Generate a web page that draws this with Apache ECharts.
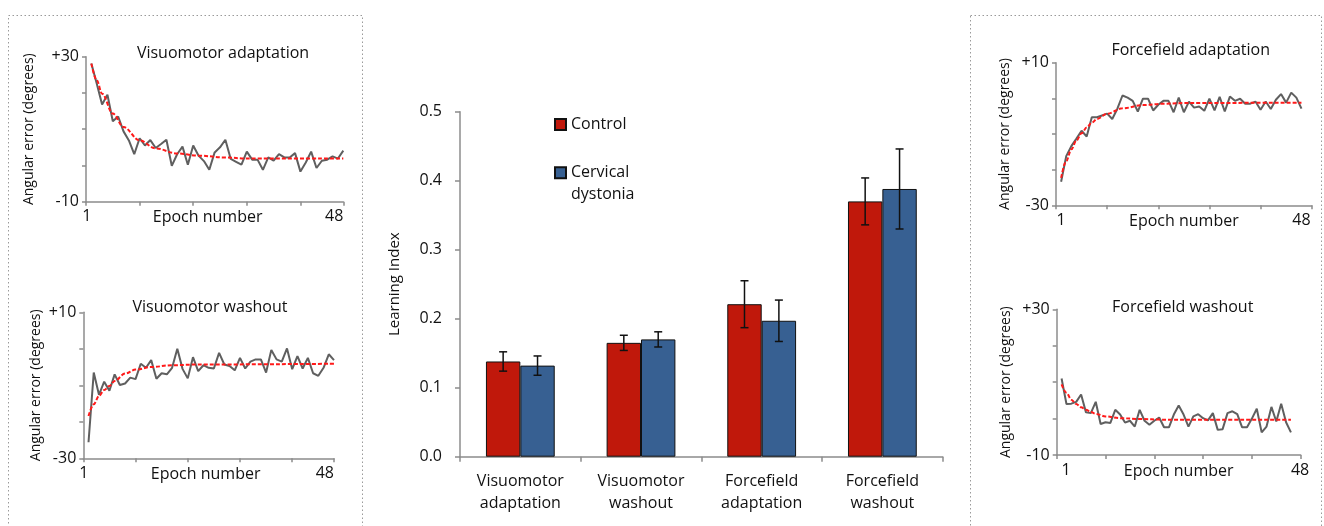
<!DOCTYPE html>
<html>
<head>
<meta charset="utf-8">
<script src="https://cdn.jsdelivr.net/npm/echarts@6/dist/echarts.min.js"></script>
<style>
html,body{margin:0;padding:0;background:#fff;}
#c{width:1324px;height:526px;}
</style>
</head>
<body>
<div id="c"></div>
<script>
// ---------- DATA ----------
const categories = ['Visuomotor\nadaptation', 'Visuomotor\nwashout', 'Forcefield\nadaptation', 'Forcefield\nwashout'];
const controlMean = [0.138, 0.165, 0.221, 0.370];
const controlSE = [0.014, 0.011, 0.034, 0.034];
const dystoniaMean = [0.132, 0.170, 0.197, 0.388];
const dystoniaSE = [0.014, 0.011, 0.030, 0.058];
const yTicksBar = [0, 0.1, 0.2, 0.3, 0.4, 0.5];

const epochLabels = [1, 48];

const vmAdaptTrial = [28.1,22.6,16.8,19.5,12.2,13.5,9.4,6.9,3.1,7.5,5.5,7.0,4.8,5.9,7.1,-0.1,3.1,5.2,0.2,5.5,2.7,1.2,-1.2,3.6,5.0,7.1,1.8,1.0,0.2,3.8,1.6,1.6,-1.2,2.2,1.3,3.1,2.2,2.2,3.4,-1.7,0.8,3.8,-0.7,1.3,1.6,2.5,1.9,4.1];
const vmAdaptFit = [[1,28.1],[2,23.5],[3,19.8],[5,14.3],[7,10.6],[10,6.9],[13,4.7],[17,3.3],[21,2.7],[26,2.2],[30,1.9],[48,1.9]];

const vmWashTrial = [-25.6,-6.5,-12.6,-9.0,-11.5,-7.0,-9.9,-9.5,-7.9,-8.3,-4.1,-5.2,-3.1,-8.2,-6.7,-7.0,-5.2,0.0,-5.5,-8.1,-2.3,-6.1,-4.5,-5.2,-5.4,-1.1,-4.3,-4.7,-5.9,-2.5,-5.4,-3.5,-2.9,-2.9,-6.5,-0.3,-2.9,-3.5,0.1,-5.6,-2.0,-5.4,-2.5,-6.7,-7.4,-5.2,-1.5,-3.1];
const vmWashFit = [[1,-18.4],[2,-15.2],[3,-12.9],[4,-11.3],[5,-10.2],[6,-8.8],[8,-6.8],[10,-5.7],[13,-5.0],[17,-4.5],[22,-4.3],[48,-4.1]];

const ffAdaptTrial = [-23.4,-16.2,-13.4,-11.3,-9.1,-10.7,-5.3,-5.3,-4.8,-4.3,-5.8,-2.9,0.8,0.2,-0.7,-3.7,-0.1,-0.1,-3.4,-1.8,-0.7,-0.7,-3.9,0.2,-3.9,-0.9,-2.6,-2.3,-3.5,-0.1,-3.4,0.4,-3.7,0.5,-0.7,-0.1,-1.5,-1.5,-0.9,-3.2,-0.9,-3.0,-0.4,1.2,-1.2,1.6,0.2,-2.9];
const ffAdaptFit = [[1,-22.3],[2,-17.6],[3,-14.3],[4,-11.8],[5,-9.8],[6,-8.2],[7,-6.8],[8,-5.8],[10,-4.3],[13,-2.8],[17,-1.9],[21,-1.5],[26,-1.3],[48,-1.2]];

const ffWashTrial = [11.0,4.0,4.1,4.6,6.6,1.7,1.5,4.6,-1.5,-1.0,-1.2,2.4,1.1,-1.1,-0.6,-2.2,2.4,-0.6,-1.7,-0.6,0.3,-2.4,-2.4,1.1,3.6,1.1,-2.2,0.6,1.2,0.1,-0.5,1.5,-3.1,-2.9,1.5,2.0,1.2,-2.4,-2.4,0.0,2.7,-3.8,-2.2,3.2,-0.8,4.1,-1.0,-3.8];
const ffWashFit = [[1,9.4],[2,7.1],[3,5.2],[4,4.0],[5,3.1],[6,2.4],[7,1.8],[8,1.3],[10,0.6],[13,0.1],[17,-0.1],[22,-0.3],[48,-0.3]];

// ---------- STYLE ----------
const FONT = 'Open Sans';
const TXT = '#111';
const AXC = '#8c8c8c';
const RED = '#C0180B';
const BLUE = '#376092';

const chart = echarts.init(document.getElementById('c'), null, {renderer: 'canvas'});

function smallPanel(gi, xMax, yMin, yMax, nameGapY, labelAlign, namePad) {
  const x = {
    type: 'value', gridIndex: gi, min: 0, max: xMax, interval: 10,
    axisLine: {show: true, onZero: false, lineStyle: {color: AXC, width: 1.5}},
    axisTick: {show: true, length: 4, inside: false, lineStyle: {color: AXC, width: 1.5}},
    splitLine: {show: false},
    axisLabel: {
      customValues: epochLabels, margin: 7, fontSize: 16, fontFamily: FONT, color: TXT,
      align: labelAlign
    },
    name: 'Epoch number', nameLocation: 'middle', nameGap: 8, nameMoveOverlap: false,
    nameTextStyle: {fontSize: 16, fontFamily: FONT, color: TXT, verticalAlign: 'top', padding: namePad}
  };
  const y = {
    type: 'value', gridIndex: gi, min: yMin, max: yMax, interval: 10,
    axisLine: {show: true, onZero: false, lineStyle: {color: AXC, width: 1.5}},
    axisTick: {show: true, length: 4, lineStyle: {color: AXC, width: 1.5}},
    splitLine: {show: false},
    axisLabel: {
      customValues: [yMin, yMax], margin: 7, fontSize: 16, fontFamily: FONT, color: TXT,
      formatter: v => v > 0 ? '+' + v : String(v)
    },
    name: 'Angular error (degrees)', nameLocation: 'middle', nameGap: nameGapY, nameMoveOverlap: false,
    nameTextStyle: {fontSize: 14, fontFamily: FONT, color: TXT}
  };
  return {x, y};
}

const p1 = smallPanel(1, 48, -10, 30, 50, 'right', [0, 14, 0, 0]);
const p2 = smallPanel(2, 48, -30, 10, 40, 'right', [0, 6, 0, 0]);
const p3 = smallPanel(3, 50, -30, 10, 44, 'center', [0, 0, 0, 0]);
const p4 = smallPanel(4, 50, -10, 30, 44, 'left', [0, 0, 0, 0]);

function trialSeries(arr, axisIdx) {
  return {
    type: 'line', xAxisIndex: axisIdx, yAxisIndex: axisIdx,
    data: arr.map((v, i) => [i + 1, v]),
    showSymbol: false, symbol: 'none', silent: true,
    lineStyle: {color: '#5f5f5f', width: 2}, z: 2
  };
}
function fitSeries(arr, axisIdx) {
  return {
    type: 'line', xAxisIndex: axisIdx, yAxisIndex: axisIdx,
    data: arr, smooth: 0.35, smoothMonotone: 'x',
    showSymbol: false, symbol: 'none', silent: true,
    lineStyle: {color: '#ff1a1a', width: 2, type: [4, 2]}, z: 3
  };
}

function errSeries(mean, se, side, name) {
  return {
    type: 'custom', name: name + ' SE', xAxisIndex: 0, yAxisIndex: 0, z: 10,
    data: mean.map((m, i) => [i, m - se[i], m + se[i]]),
    encode: {x: 0, y: [1, 2]},
    renderItem: function (params, api) {
      const idx = api.value(0);
      const lo = api.coord([idx, api.value(1)]);
      const hi = api.coord([idx, api.value(2)]);
      const band = api.size([1, 0])[0];
      const barW = band * (1 - 0.43) / 2;
      const x = lo[0] + side * barW / 2;
      const cap = 4;
      const st = {stroke: '#111', lineWidth: 1.5};
      return {
        type: 'group',
        children: [
          {type: 'line', shape: {x1: x, y1: lo[1], x2: x, y2: hi[1]}, style: st},
          {type: 'line', shape: {x1: x - cap, y1: hi[1], x2: x + cap, y2: hi[1]}, style: st},
          {type: 'line', shape: {x1: x - cap, y1: lo[1], x2: x + cap, y2: lo[1]}, style: st}
        ]
      };
    }
  };
}

const titleStyle = (t, x, y) => ({
  type: 'text', x: x, y: y, silent: true,
  style: {text: t, fontSize: 16, fontFamily: FONT, fill: TXT, align: 'center', verticalAlign: 'middle'}
});

const option = {
  backgroundColor: '#fff',
  animation: false,
  grid: [
    {left: 460, right: 381.3, top: 111.7, bottom: 69.3},
    {left: 86, right: 980.7, top: 56.7, bottom: 324.3},
    {left: 83.3, right: 990, top: 312.3, bottom: 67.7},
    {left: 1056, right: 12.3, top: 62.7, bottom: 320.7},
    {left: 1056.7, right: 23.3, top: 309.3, bottom: 71}
  ],
  xAxis: [
    {
      type: 'category', gridIndex: 0, data: categories,
      axisLine: {lineStyle: {color: AXC, width: 1.5}},
      axisTick: {show: true, length: 5, alignWithLabel: false, lineStyle: {color: AXC, width: 1.5}},
      axisLabel: {fontSize: 16, fontFamily: FONT, color: TXT, lineHeight: 22, margin: 14, interval: 0}
    },
    p1.x, p2.x, p3.x, p4.x
  ],
  yAxis: [
    {
      type: 'value', gridIndex: 0, min: 0, max: 0.5, interval: 0.1,
      axisLine: {show: true, lineStyle: {color: AXC, width: 1.5}},
      axisTick: {show: true, length: 5, lineStyle: {color: AXC, width: 1.5}},
      splitLine: {show: false},
      axisLabel: {
        customValues: yTicksBar, fontSize: 16, fontFamily: FONT, color: TXT, margin: 18,
        formatter: v => v.toFixed(1)
      },
      name: 'Learning Index', nameLocation: 'middle', nameGap: 58, nameMoveOverlap: false,
      nameTextStyle: {fontSize: 15, fontFamily: FONT, color: TXT}
    },
    p1.y, p2.y, p3.y, p4.y
  ],
  legend: [
    {
      data: ['Control'], left: 554, top: 114.5, padding: 0, orient: 'vertical',
      itemWidth: 11, itemHeight: 11, icon: 'rect', selectedMode: false,
      textStyle: {fontSize: 16, fontFamily: FONT, color: TXT, lineHeight: 20}
    },
    {
      data: ['Cervical dystonia'], left: 554, top: 139.7, padding: 0, orient: 'vertical',
      itemWidth: 11, itemHeight: 11, icon: 'rect', selectedMode: false,
      formatter: () => '{s| }\n{b|Cervical}\n{b|dystonia}',
      textStyle: {
        fontSize: 16, fontFamily: FONT, color: TXT, lineHeight: 22,
        rich: {
          s: {fontSize: 16, fontFamily: FONT, lineHeight: 22},
          b: {fontSize: 16, fontFamily: FONT, color: TXT, lineHeight: 22}
        }
      }
    }
  ],
  series: [
    {
      type: 'bar', name: 'Control', xAxisIndex: 0, yAxisIndex: 0, data: controlMean,
      barGap: '0%', barCategoryGap: '43%',
      itemStyle: {color: RED, borderColor: '#111', borderWidth: 1}
    },
    {
      type: 'bar', name: 'Cervical dystonia', xAxisIndex: 0, yAxisIndex: 0, data: dystoniaMean,
      barGap: '0%', barCategoryGap: '43%',
      itemStyle: {color: BLUE, borderColor: '#111', borderWidth: 1}
    },
    errSeries(controlMean, controlSE, -1, 'Control'),
    errSeries(dystoniaMean, dystoniaSE, 1, 'Cervical dystonia'),
    trialSeries(vmAdaptTrial, 1), fitSeries(vmAdaptFit, 1),
    trialSeries(vmWashTrial, 2), fitSeries(vmWashFit, 2),
    trialSeries(ffAdaptTrial, 3), fitSeries(ffAdaptFit, 3),
    trialSeries(ffWashTrial, 4), fitSeries(ffWashFit, 4)
  ],
  graphic: [
    {type: 'rect', silent: true, z: -1, shape: {x: 8.5, y: 15.5, width: 354, height: 540},
      style: {fill: 'none', stroke: '#9a9a9a', lineWidth: 1, lineDash: [1.5, 2.5]}},
    {type: 'rect', silent: true, z: -1, shape: {x: 970.5, y: 15.5, width: 351, height: 540},
      style: {fill: 'none', stroke: '#9a9a9a', lineWidth: 1, lineDash: [1.5, 2.5]}},
    titleStyle('Visuomotor adaptation', 223, 53),
    titleStyle('Visuomotor washout', 210, 307.7),
    titleStyle('Forcefield adaptation', 1190.7, 50.7),
    titleStyle('Forcefield washout', 1182.7, 307.7)
  ]
};

chart.setOption(option);
</script>
</body>
</html>
